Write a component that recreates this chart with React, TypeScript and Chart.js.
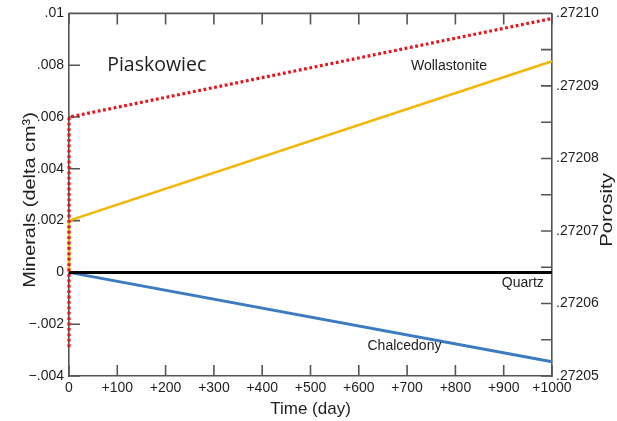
import React, { useEffect, useRef } from "react";
import { Chart, registerables } from "chart.js";

Chart.register(...registerables);

// Time axis (days)
const timeTicks = [0, 100, 200, 300, 400, 500, 600, 700, 800, 900, 1000];

// Mineral volume changes (delta cm3) over time
const quartzTime = [0, 1000];
const quartzValues = [0, 0];

const chalcedonyTime = [0, 1000];
const chalcedonyValues = [0, -0.00345];

const wollastoniteTime = [0, 0, 1000];
const wollastoniteValues = [0, 0.002, 0.00815];

// Porosity (right axis)
const porosityTime = [0, 0, 1000];
const porosityValues = [0.272054, 0.2720857, 0.2720993];

// Axis ranges
const mineralRange = [-0.004, 0.01];
const mineralStep = 0.002;
const porosityRange = [0.27205, 0.2721];
const porosityStep = 0.000005;

const FONT = "'Liberation Sans', Arial, sans-serif";
const AXIS_COLOR = "#555";
const TEXT_COLOR = "#1e1e1e";

const toPoints = (xs: number[], ys: number[]) => xs.map((x, i) => ({ x, y: ys[i] }));

const fmtMineral = (v: number) => {
  if (Math.abs(v) < 1e-12) return "0";
  const s = Number(v.toFixed(3)).toString();
  return s.replace("0.", ".").replace("-", "\u2212");
};

const fmtPorosity = (v: number) => {
  const k = Math.round((v - porosityRange[0]) / porosityStep);
  if (k % 2 !== 0) return "";
  return (porosityRange[0] + k * porosityStep).toFixed(5).replace("0.", ".");
};

// Inward tick marks on all four sides plus the top frame line
const frameTicks = {
  id: "frameTicks",
  beforeDatasetsDraw(chart: any) {
    const { ctx, chartArea, scales } = chart;
    const { left, right, top, bottom } = chartArea;
    const len = 11;
    ctx.save();
    ctx.strokeStyle = AXIS_COLOR;
    ctx.lineWidth = 1.6;
    ctx.beginPath();
    ctx.moveTo(left, top);
    ctx.lineTo(right, top);
    scales.x.ticks.forEach((t: any) => {
      const px = scales.x.getPixelForValue(t.value);
      ctx.moveTo(px, bottom);
      ctx.lineTo(px, bottom - len);
      ctx.moveTo(px, top);
      ctx.lineTo(px, top + len);
    });
    scales.y.ticks.forEach((t: any) => {
      const py = scales.y.getPixelForValue(t.value);
      ctx.moveTo(left, py);
      ctx.lineTo(left + len, py);
    });
    scales.y2.ticks.forEach((t: any) => {
      const py = scales.y2.getPixelForValue(t.value);
      ctx.moveTo(right, py);
      ctx.lineTo(right - len, py);
    });
    ctx.stroke();
    ctx.restore();
  },
};

// Axis titles and in-plot labels
const annotations = {
  id: "annotations",
  afterDraw(chart: any) {
    const { ctx, scales } = chart;
    const { x, y } = scales;
    ctx.save();
    ctx.fillStyle = TEXT_COLOR;
    ctx.textBaseline = "middle";

    // rotated axis titles
    const vTitle = (text: string, cx: number, cy: number, stretch: number) => {
      ctx.save();
      ctx.translate(cx, cy);
      ctx.rotate(-Math.PI / 2);
      ctx.scale(stretch, 1);
      ctx.font = `17px ${FONT}`;
      ctx.textAlign = "center";
      ctx.fillText(text, 0, 0);
      ctx.restore();
    };
    vTitle("Minerals (delta cm\u00b3)", 30, 200, 1.17);
    vTitle("Porosity", 607, 210, 1.2);

    ctx.textAlign = "center";
    ctx.font = `17px ${FONT}`;
    ctx.fillText("Time (day)", (chart.chartArea.left + chart.chartArea.right) / 2, 409);

    ctx.textAlign = "left";
    ctx.font = `19.5px 'Open Sans', sans-serif`;
    ctx.fillText("Piaskowiec", x.getPixelForValue(79), y.getPixelForValue(0.008));

    ctx.font = `14px ${FONT}`;
    ctx.fillText("Wollastonite", x.getPixelForValue(708), y.getPixelForValue(0.00795));
    ctx.fillText("Chalcedony", x.getPixelForValue(618), y.getPixelForValue(-0.00283));
    ctx.textAlign = "right";
    ctx.fillText("Quartz", x.getPixelForValue(983), y.getPixelForValue(-0.00043));
    ctx.restore();
  },
};

export default function App() {
  const ref = useRef<HTMLCanvasElement | null>(null);

  useEffect(() => {
    if (!ref.current) return;
    const chart = new Chart(ref.current, {
      type: "line",
      data: {
        datasets: [
          {
            label: "Porosity",
            data: toPoints(porosityTime, porosityValues),
            yAxisID: "y2",
            borderColor: "#e8141c",
            borderWidth: 3.2,
            borderDash: [2.8, 2.6],
            pointRadius: 0,
            clip: 6,
            order: 0,
          },
          {
            label: "Quartz",
            data: toPoints(quartzTime, quartzValues),
            yAxisID: "y",
            borderColor: "#000",
            borderWidth: 3,
            pointRadius: 0,
            clip: 6,
            order: 1,
          },
          {
            label: "Wollastonite",
            data: toPoints(wollastoniteTime, wollastoniteValues),
            yAxisID: "y",
            borderColor: "#f2b705",
            borderWidth: 2.6,
            pointRadius: 0,
            clip: 6,
            order: 2,
          },
          {
            label: "Chalcedony",
            data: toPoints(chalcedonyTime, chalcedonyValues),
            yAxisID: "y",
            borderColor: "#3b7cc0",
            borderWidth: 3,
            pointRadius: 0,
            clip: 6,
            order: 3,
          },
        ],
      },
      options: {
        responsive: false,
        animation: false,
        events: [],
        layout: { padding: { top: 13, left: 0, right: 0, bottom: 0 } },
        plugins: { legend: { display: false }, tooltip: { enabled: false } },
        scales: {
          x: {
            type: "linear",
            min: timeTicks[0],
            max: timeTicks[timeTicks.length - 1],
            afterBuildTicks: (s: any) => {
              s.ticks = timeTicks.map((v) => ({ value: v }));
            },
            afterFit: (s: any) => {
              s.height = 45;
            },
            ticks: {
              callback: (v: any) => (Number(v) === 0 ? "0" : "+" + v),
              font: { size: 14, family: FONT },
              color: TEXT_COLOR,
              padding: 4,
              maxRotation: 0,
              autoSkip: false,
            },
            grid: { drawOnChartArea: false, drawTicks: false },
            border: { display: true, color: AXIS_COLOR, width: 1.6 },
          },
          y: {
            type: "linear",
            position: "left",
            min: mineralRange[0],
            max: mineralRange[1],
            afterFit: (s: any) => {
              s.width = 69;
            },
            ticks: {
              stepSize: mineralStep,
              callback: (v: any) => fmtMineral(Number(v)),
              font: { size: 14, family: FONT },
              color: TEXT_COLOR,
              padding: 5,
            },
            grid: { drawOnChartArea: false, drawTicks: false },
            border: { display: true, color: AXIS_COLOR, width: 1.6 },
          },
          y2: {
            type: "linear",
            position: "right",
            min: porosityRange[0],
            max: porosityRange[1],
            afterFit: (s: any) => {
              s.width = 65;
            },
            ticks: {
              stepSize: porosityStep,
              callback: (v: any) => fmtPorosity(Number(v)),
              font: { size: 14, family: FONT },
              color: TEXT_COLOR,
              padding: 4,
              autoSkip: false,
            },
            grid: { drawOnChartArea: false, drawTicks: false },
            border: { display: true, color: AXIS_COLOR, width: 1.6 },
          },
        },
      },
      plugins: [frameTicks, annotations],
    });
    return () => chart.destroy();
  }, []);

  return (
    <div style={{ position: "fixed", left: 0, top: 0, width: 617, height: 421, background: "#fff" }}>
      <canvas ref={ref} width={617} height={421} style={{ display: "block" }} />
    </div>
  );
}
